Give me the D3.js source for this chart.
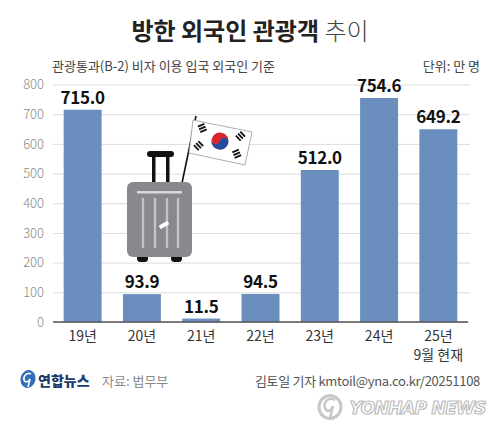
<!DOCTYPE html>
<html>
<head>
<meta charset="utf-8">
<script src="https://cdn.jsdelivr.net/npm/d3@7"></script>
<style>
  body { margin: 0; background: #fff; }
  svg { display: block; font-family: "Noto Sans CJK KR", "Noto Sans", sans-serif; }
</style>
</head>
<body>
<div class="graph"></div>
<script>
// Data
var years = ["19년", "20년", "21년", "22년", "23년", "24년", "25년"];
var subLabels = ["", "", "", "", "", "", "9월 현재"];
var visitors = [715.0, 93.9, 11.5, 94.5, 512.0, 754.6, 649.2];
var yTicks = [0, 100, 200, 300, 400, 500, 600, 700, 800];

// Configuration
var width = 500;
var height = 440;
var plot = { left: 53, right: 468, top: 84.5, bottom: 322 };
var barColor = "#6a8fbf";

var svg = d3.select(".graph").append("svg")
    .attr("width", width)
    .attr("height", height);

svg.append("rect").attr("width", width).attr("height", height).attr("fill", "#fff");

// Scales
var x = d3.scaleBand()
    .domain(years)
    .range([plot.left, plot.right])
    .paddingInner(0.36)
    .paddingOuter(0.18);
var y = d3.scaleLinear()
    .domain([0, 800])
    .range([plot.bottom, plot.top]);

// Title
var title = svg.append("text")
    .attr("x", 250).attr("y", 40)
    .attr("text-anchor", "middle")
    .attr("font-size", 24)
    .attr("fill", "#222");
title.append("tspan").attr("font-weight", 700).text("방한 외국인 관광객 ");
title.append("tspan").attr("font-weight", 300).attr("fill", "#444").text("추이");

svg.append("text")
    .attr("x", 52).attr("y", 71)
    .attr("font-size", 13).attr("fill", "#444")
    .text("관광통과(B-2) 비자 이용 입국 외국인 기준");
svg.append("text")
    .attr("x", 480).attr("y", 71)
    .attr("text-anchor", "end")
    .attr("font-size", 13).attr("fill", "#444")
    .text("단위: 만 명");

// Grid + y axis
var yAxis = svg.append("g")
    .attr("transform", "translate(" + plot.left + ",0)")
    .call(d3.axisLeft(y).tickValues(yTicks).tickSize(-(plot.right - plot.left + 2)).tickPadding(9));
yAxis.select(".domain").remove();
yAxis.selectAll(".tick line").attr("stroke", "#dcdcdc").attr("stroke-width", 1);
yAxis.selectAll(".tick text")
    .attr("font-size", 13).attr("fill", "#8a8a8a")
    .attr("font-weight", 300)
    .attr("font-family", "\"Noto Sans CJK KR\", sans-serif");

// Suitcase illustration
var bag = svg.append("g");
bag.append("line").attr("x1", 182).attr("y1", 183).attr("x2", 196).attr("y2", 116)
    .attr("stroke", "#111").attr("stroke-width", 1.6);
bag.append("path")
    .attr("d", "M193,120 L252,132 L245,165 L189,153 Z")
    .attr("fill", "#fff").attr("stroke", "#999").attr("stroke-width", 0.8);
// taegeuk
var tg = bag.append("g").attr("transform", "translate(220,141) rotate(12)");
tg.append("circle").attr("r", 8.5).attr("fill", "#d8262e");
tg.append("path").attr("d", "M-8.5,0 A8.5,8.5 0 0,0 8.5,0 A4.25,4.25 0 0,0 0,0 A4.25,4.25 0 0,1 -8.5,0 Z")
    .attr("fill", "#1f4ea1");
[[-20, -9, -35], [19, -9, 35], [-20, 9, 35], [19, 9, -35]].forEach(function (t) {
    var g = tg.append("g").attr("transform", "translate(" + t[0] + "," + t[1] + ") rotate(" + t[2] + ")");
    [-3, 0, 3].forEach(function (dy) {
        g.append("rect").attr("x", -3.5).attr("y", dy - 0.9).attr("width", 7).attr("height", 1.8).attr("fill", "#111");
    });
});
bag.append("rect").attr("x", 152).attr("y", 154).attr("width", 3.5).attr("height", 30).attr("fill", "#111");
bag.append("rect").attr("x", 166).attr("y", 154).attr("width", 3.5).attr("height", 30).attr("fill", "#111");
bag.append("rect").attr("x", 147).attr("y", 151).attr("width", 27).attr("height", 6).attr("rx", 3).attr("fill", "#111");
bag.append("rect").attr("x", 137).attr("y", 254).attr("width", 11).attr("height", 8).attr("rx", 3.5).attr("fill", "#111");
bag.append("rect").attr("x", 171).attr("y", 254).attr("width", 11).attr("height", 8).attr("rx", 3.5).attr("fill", "#111");
bag.append("rect").attr("x", 127).attr("y", 182).attr("width", 65).attr("height", 75).attr("rx", 6).attr("fill", "#88898e");
bag.append("rect").attr("x", 137).attr("y", 191).attr("width", 45).attr("height", 2.5).attr("fill", "#d8d8dc");
[143, 155, 167, 178].forEach(function (sx) {
    bag.append("rect").attr("x", sx - 1.2).attr("y", 198).attr("width", 2.4).attr("height", 50).attr("fill", "#c4c4c8");
});
bag.append("rect").attr("x", -5).attr("y", -2).attr("width", 10).attr("height", 4).attr("rx", 1)
    .attr("transform", "translate(164,225) rotate(-30)").attr("fill", "#fff");

// Bars
svg.selectAll("rect.bar")
    .data(visitors)
    .enter().append("rect")
    .attr("class", "bar")
    .attr("x", function (d, i) { return x(years[i]); })
    .attr("y", function (d) { return y(d); })
    .attr("width", x.bandwidth())
    .attr("height", function (d) { return y(0) - y(d); })
    .attr("fill", barColor);

// Value labels
svg.selectAll("text.val")
    .data(visitors)
    .enter().append("text")
    .attr("class", "val")
    .attr("x", function (d, i) { return x(years[i]) + x.bandwidth() / 2; })
    .attr("y", function (d) { return y(d) - 6; })
    .attr("text-anchor", "middle")
    .attr("font-size", 17).attr("font-weight", 700).attr("fill", "#111")
    .attr("letter-spacing", -0.3)
    .text(function (d) { return d.toFixed(1); });

// Baseline
svg.append("line")
    .attr("x1", plot.left).attr("x2", plot.right)
    .attr("y1", y(0)).attr("y2", y(0))
    .attr("stroke", "#555").attr("stroke-width", 1.5);

// X labels
var xl = svg.selectAll("text.xl")
    .data(years)
    .enter().append("text")
    .attr("class", "xl")
    .attr("x", function (d) { return x(d) + x.bandwidth() / 2; })
    .attr("y", 341)
    .attr("text-anchor", "middle")
    .attr("font-size", 14).attr("fill", "#333");
xl.append("tspan").text(function (d) { return d; });
xl.append("tspan")
    .attr("x", function (d) { return x(d) + x.bandwidth() / 2; })
    .attr("dy", 19)
    .text(function (d, i) { return subLabels[i]; });

// Footer
var logo = svg.append("g").attr("transform", "translate(28,379)");
logo.append("ellipse").attr("rx", 7.5).attr("ry", 9).attr("transform", "rotate(15)").attr("fill", "#2f6fb8");
logo.append("path").attr("d", "M3,-5 C-1,-7 -5,-3 -4,1 C-3,4 1,3 2,0 L0,8")
    .attr("fill", "none").attr("stroke", "#fff").attr("stroke-width", 1.6);
svg.append("text")
    .attr("x", 38).attr("y", 386)
    .attr("font-size", 14).attr("font-weight", 900).attr("fill", "#1d3a6e")
    .text("연합뉴스");
svg.append("text")
    .attr("x", 102).attr("y", 386)
    .attr("font-size", 13).attr("fill", "#8a8a8a")
    .text("자료: 법무부");
svg.append("text")
    .attr("x", 480).attr("y", 386)
    .attr("text-anchor", "end")
    .attr("font-size", 13).attr("fill", "#555")
    .attr("letter-spacing", -0.3)
    .text("김토일 기자 kmtoil@yna.co.kr/20251108");

// Watermark
var wm = svg.append("g").attr("opacity", 0.65);
wm.append("ellipse").attr("cx", 330).attr("cy", 407).attr("rx", 11).attr("ry", 11.5)
    .attr("transform", "rotate(15,330,407)")
    .attr("fill", "#fff").attr("stroke", "#aaa").attr("stroke-width", 3);
wm.append("path").attr("d", "M335,400 C329,396 323,402 325,408 C327,413 332,411 333,406 L330,418")
    .attr("fill", "none").attr("stroke", "#aaa").attr("stroke-width", 2.5);
wm.append("text")
    .attr("x", 486).attr("y", 414)
    .attr("text-anchor", "end")
    .attr("font-size", 17).attr("font-weight", 900).attr("font-style", "italic")
    .attr("font-family", "\"DejaVu Sans\", sans-serif")
    .attr("letter-spacing", -0.6)
    .attr("fill", "#fff").attr("stroke", "#999").attr("stroke-width", 1.2)
    .text("YONHAP NEWS");
</script>
</body>
</html>
